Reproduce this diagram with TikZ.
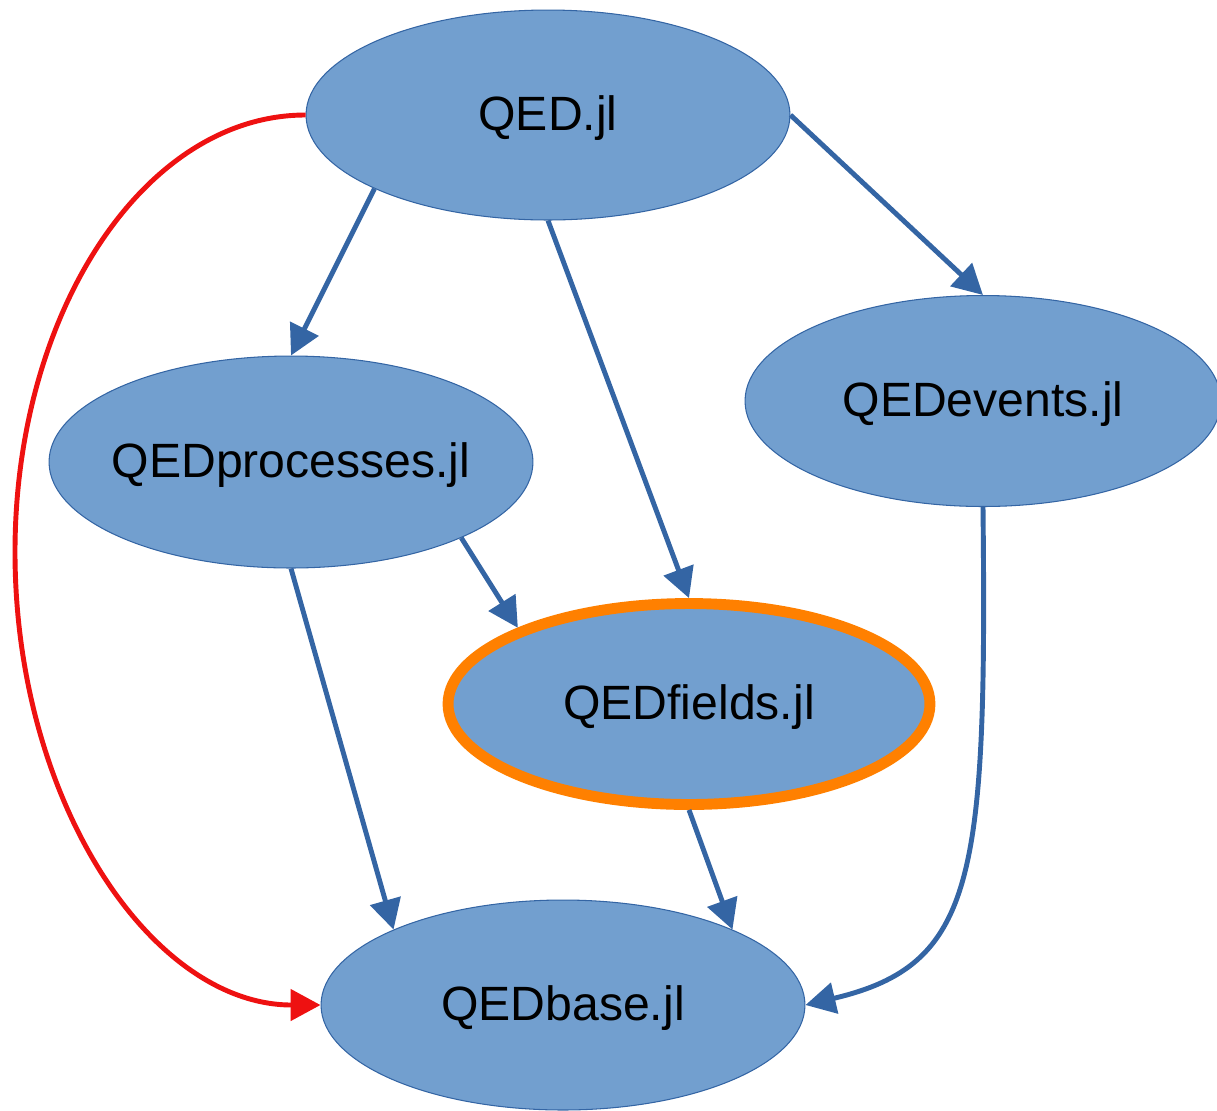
\documentclass[tikz,border=0pt]{standalone}
\usepackage{fontspec}
\setmainfont{Liberation Sans}
\usetikzlibrary{arrows.meta,shapes.geometric}
\definecolor{pkgfill}{HTML}{729FCF}
\definecolor{pkgline}{HTML}{3465A4}
\definecolor{deplink}{HTML}{3465A4}
\definecolor{direct}{HTML}{EE1111}
\definecolor{focus}{HTML}{FF8000}
\begin{document}
\begin{tikzpicture}[
        x = 0.02cm,
        y = -0.02cm,
        font = \fontsize{27.4}{32}\selectfont,
        every label/.style = {yshift = -1.7pt},
        pkg/.style = {ellipse, draw = pkgline, line width = .6pt, fill = pkgfill,
            inner sep = 0pt, minimum width = 9.68cm, minimum height = 4.2cm},
        dep/.style = {draw = deplink, line width = 2.8pt,
            -{Triangle[length = .6cm, width = .62cm]}}
    ]
        \useasboundingbox (0, 0) rectangle (1217, 1110);
        % packages
        \node[pkg, label = {center:QED.jl}] (qed) at (548, 115) {};
        \node[pkg, label = {center:QEDprocesses.jl}, minimum height = 4.24cm] (procs) at (291, 462) {};
        \node[pkg, label = {center:QEDevents.jl}, minimum width = 9.52cm, minimum height = 4.22cm] (events) at (983, 401) {};
        \node[pkg, label = {center:QEDfields.jl}, draw = focus, line width = 6.2pt,
            minimum width = 9.64cm, minimum height = 4.02cm] (fields) at (689, 704) {};
        \node[pkg, label = {center:QEDbase.jl}] (base) at (563, 1005) {};
        \coordinate (redturn) at (15, 552);
        % dependencies
        \draw[dep] (qed.203) -- (procs.north);
        \draw[dep] (qed.south) -- (fields.north);
        \draw[dep] (qed.east) -- (events.north);
        \draw[dep] (procs.-24) -- (fields.156);
        \draw[dep] (procs.south) -- (base.156);
        \draw[dep] (fields.south) -- (base.24);
        \draw[dep] (events.south) .. controls (987, 880) and (975, 965) .. (base.east);
        \draw[dep, draw = direct] (qed.west) .. controls (145, 115) and (15, 311) .. (redturn)
            .. controls (15, 802) and (152, 1005) .. (base.west);
    \end{tikzpicture}
\end{document}
